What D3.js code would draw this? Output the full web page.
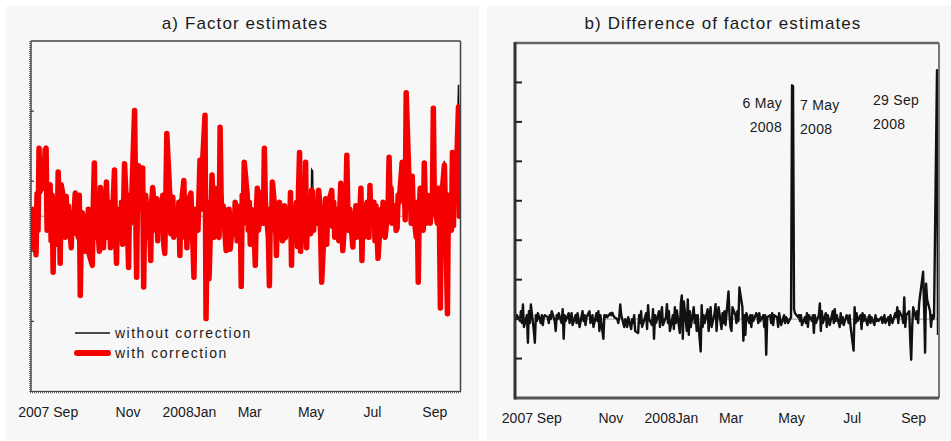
<!DOCTYPE html>
<html>
<head>
<meta charset="utf-8">
<script src="https://cdn.jsdelivr.net/npm/d3@7"></script>
<style>
  html, body { margin: 0; padding: 0; background: #ffffff; }
  svg { display: block; font-family: Arial, "Liberation Sans", Helvetica, sans-serif; }
</style>
</head>
<body>
<svg id="chart" width="951" height="441"></svg>
<script>
// ---- data -------------------------------------------------------------
// Daily (business-day) sample, 1 Aug 2007 - 30 Sep 2008
const startDate = new Date(2007, 7, 1);
const endDate = new Date(2008, 9, 1);

const tickDates = [
  new Date(2007, 8, 1), new Date(2007, 10, 1), new Date(2008, 0, 1),
  new Date(2008, 2, 1), new Date(2008, 4, 1), new Date(2008, 6, 1), new Date(2008, 8, 1)
];
const tickLabels = ["2007 Sep", "Nov", "2008Jan", "Mar", "May", "Jul", "Sep"];

// factor estimate with correction (one row per month)
const withCorrection = [
  -0.17, -0.45, 0.1, -0.55, 0.32, -0.2, 0.97, 0.35, 0.6, 0.4, 0.95, 0.97, -0.2, 0.45, -0.35, 0.3, -0.8, 0.25, -0.4, 0.63, 0.1, -0.67, 0.45,
  0.2, -0.3, 0.28, -0.1, 0.15, -0.45, 0.05, -0.25, 0.1, 0.33, -0.3, 0.3, -1.13, -0.2, 0.05, -0.5, 0.0, -0.4, 0.1, -0.55,
  -0.7, 0.2, 0.76, -0.3, 0.1, -0.5, 0.41, -0.2, 0.25, -0.45, 0.49, 0.05, -0.3, 0.2, -0.45, 0.3, 0.66, -0.2, -0.67, 0.1, -0.3, 0.2, -0.4,
  0.1, 0.75, -0.2, -0.73, 0.3, -0.1, 0.2, 1.51, 0.2, -0.87, 0.4, 0.72, 0.1, 0.69, -1.01, 0.05, 0.3, -0.3, -0.1, -0.63, 0.2, 0.41,
  -0.2, 0.25, -0.35, 0.1, -0.15, 0.3, -0.4, -0.53, 0.2, 1.18, 0.3, -0.25, 0.15, 0.27, -0.3, 0.1, -0.2, 0.2, -0.56, 0.1, 0.51,
  -0.3, 0.1, -0.45, 0.2, 0.33, -0.2, -0.4, -0.87, 0.1, -0.2, 0.3, 0.8, 0.1, 0.6, 1.44, -1.46, -0.3, 0.2, -0.89, 0.59, 0.1, -0.3, 0.4,
  0.2, -0.3, 1.27, 0.3, -0.1, 0.15, -0.49, 0.09, -0.2, 0.1, -0.47, 0.0, -0.25, 0.2, 0.05, -0.35, 0.15, -1.0, 0.3, -0.1, 0.77,
  0.3, -0.2, 0.2, -0.4, 0.1, -0.3, -0.7, 0.05, 0.4, -0.2, 0.1, 0.35, -0.1, 0.97, 0.2, -0.3, -0.99, 0.1, -0.2, 0.49, 0.0,
  -0.56, 0.05, -0.2, 0.2, -0.35, 0.0, 0.15, -0.3, 0.1, -0.2, 0.34, -0.7, 0.1, -0.3, 0.2, -0.43, 0.4, 0.91, -0.5, 0.3, -0.2, 0.77,
  -0.45, 0.1, -0.25, 0.37, 0.35, -0.2, 0.15, -0.1, 0.37, 0.2, -0.3, -0.94, 0.0, 0.25, -0.4, 0.1, 0.2, 0.37, -0.15, 0.2, -0.3, 0.1,
  -0.35, 0.1, 0.47, -0.1, -0.49, 0.2, 0.87, 0.07, -0.2, 0.1, -0.44, 0.0, -0.2, 0.15, -0.3, 0.1, 0.4, -0.63, 0.05, -0.3, 0.2,
  0.1, -0.3, 0.44, -0.1, 0.2, -0.35, 0.15, -0.2, -0.6, 0.1, -0.15, 0.2, -0.2, -0.3, 0.1, 0.84, 0.2, 0.4, -0.1, 0.15, -0.2, -0.17, 0.3,
  0.2, 0.77, 0.3, 0.5, -0.05, 1.76, 0.4, 0.33, -0.1, 0.57, 0.1, -0.3, 0.2, -0.94, 0.1, 0.4, -0.2, 0.76, 0.2, -0.1, 0.3,
  -0.1, 0.3, 0.1, 1.54, 0.2, -0.1, 0.4, 0.0, -1.31, 0.2, 0.73, 0.1, -0.6, -1.39, 0.3, -0.2, 0.91, -0.13, 0.6, 0.2, 1.56, 0.0
];

// difference of the two estimates (uncorrected minus corrected), panel b units
const difference = [
  0.12, 0.05, 0.1, -0.05, 0.2, -0.1, 0.37, -0.2, 0.1, -0.6, 0.2, -0.1, 0.37, -0.3, -0.6, 0.1, -0.05, 0.15, -0.1, 0.1, -0.15, 0.05, 0.1,
  0.05, -0.1, 0.1, 0.0, 0.2, -0.05, -0.3, 0.1, 0.0, 0.15, -0.1, 0.25, -0.5, 0.1, -0.05, 0.15, -0.1, 0.05, 0.15, -0.15,
  0.1, -0.1, 0.15, 0.0, -0.2, 0.2, -0.05, 0.1, -0.15, 0.05, 0.2, -0.1, 0.0, 0.1, -0.2, 0.15, -0.05, 0.2, -0.3, 0.1, -0.5, 0.1, 0.05,
  0.1, 0.05, 0.15, 0.1, 0.16, 0.1, 0.05, 0.0, -0.1, 0.05, 0.37, 0.1, -0.2, 0.0, -0.1, -0.2, 0.05, -0.25, 0.0, -0.1, 0.1, -0.3,
  -0.35, 0.1, -0.1, 0.2, -0.2, 0.05, 0.15, -0.25, 0.35, 0.0, -0.15, 0.25, -0.5, 0.1, -0.1, 0.2, -0.2, 0.1, 0.3, -0.15, 0.05,
  0.38, -0.1, 0.2, -0.3, 0.1, -0.25, 0.3, -0.1, 0.22, -0.35, 0.4, 0.6, -0.5, 0.45, -0.3, 0.5, -0.4, 0.2, -0.2, 0.3, -0.1, 0.1, -0.3,
  0.1, -0.82, 0.35, -0.2, 0.1, -0.1, 0.25, -0.3, 0.1, 0.3, -0.2, 0.15, 0.38, -0.3, 0.1, 0.3, -0.25, 0.15, -0.1, 0.2, -0.15,
  0.7, 0.1, -0.2, -0.3, 0.3, 0.1, -0.1, 0.2, -0.05, 0.8, 0.3, -0.55, 0.1, -0.4, 0.15, -0.1, 0.1, -0.2, 0.1, -0.05, 0.15,
  0.1, -0.1, 0.15, -0.05, 0.1, -0.2, 0.1, -0.9, 0.05, 0.1, -0.1, 0.15, -0.15, 0.1, 0.05, -0.2, 0.15, 0.0, -0.15, 0.1, -0.1, 0.05,
  0.0, -0.1, 0.05, 5.93, 5.9, 0.25, 0.15, 0.05, 0.1, -0.05, 0.1, -0.15, 0.05, -0.1, 0.15, -0.2, 0.1, -0.05, 0.1, -0.35, 0.1, -0.1,
  0.1, 0.4, -0.3, 0.2, -0.1, 0.15, -0.2, 0.1, 0.0, -0.15, 0.2, -0.1, 0.25, -0.05, 0.1, -0.2, 0.15, -0.1, 0.05, -0.15, 0.1,
  0.05, -0.1, 0.1, -0.2, -0.8, 0.3, -0.1, 0.15, -0.05, 0.1, -0.25, 0.15, -0.05, 0.1, -0.15, 0.05, 0.1, -0.1, 0.05, -0.15, 0.1, -0.05, 0.0,
  -0.05, 0.05, -0.1, 0.0, 0.1, -0.1, 0.05, -0.15, 0.1, 0.0, -0.1, 0.15, 0.05, 0.3, -0.1, 0.2, 0.05, -0.1, 0.55, -0.2, 0.1,
  0.2, -0.5, -1.03, -0.2, 0.3, 0.0, 0.2, -0.1, 0.4, 0.6, 1.2, 0.3, -0.85, 0.9, 0.5, 0.2, -0.2, 0.1, 0.0, 0.05, 6.31, -0.4
];

// panel b shows the difference magnified 20 times relative to panel a
const differenceMagnification = 20;

const yTicksA = [-1.5, -0.5, 0.5, 1.5];
const yTicksB = [-1, 0, 1, 2, 3, 4, 5, 6];

const titles = ["a) Factor estimates", "b) Difference of factor estimates"];
const legendLabels = ["without correction", "with correction"];

const annotations = [
  { date: new Date(2008, 4, 6), lines: ["6 May", "2008"], side: "left" },
  { date: new Date(2008, 4, 7), lines: ["7 May", "2008"], side: "right" },
  { date: new Date(2008, 8, 29), lines: ["29 Sep", "2008"], side: "far" }
];

// ---- build series ------------------------------------------------------
const days = d3.timeDay.range(startDate, endDate)
  .filter(d => d.getDay() !== 0 && d.getDay() !== 6);

const seriesWith = days.map((d, i) => ({ date: d, value: withCorrection[i] }));
const seriesWithout = days.map((d, i) => ({ date: d, value: withCorrection[i] + difference[i] / differenceMagnification }));
const seriesDiff = days.map((d, i) => ({ date: d, value: difference[i] }));

// ---- drawing -----------------------------------------------------------
const svg = d3.select("#chart");
const defs = svg.append("defs");

// panel backgrounds
svg.append("rect").attr("x", 6).attr("y", 6).attr("width", 473).attr("height", 434).attr("fill", "#f7f7f7");
svg.append("rect").attr("x", 487).attr("y", 6).attr("width", 464).attr("height", 434).attr("fill", "#f7f7f7");

function clip(id, x0, y0, x1, y1) {
  defs.append("clipPath").attr("id", id)
    .append("rect").attr("x", x0).attr("y", y0).attr("width", x1 - x0).attr("height", y1 - y0);
}

function monthLabels(g, x, yBase) {
  tickDates.forEach((d, i) => {
    const px = x(d) + 4.5;
    const first = i === 0;
    g.append("text")
      .attr("x", first ? px + 11.5 : px)
      .attr("y", yBase)
      .attr("text-anchor", first ? "end" : "middle")
      .attr("font-size", 14)
      .attr("fill", "#1a1a1a")
      .text(tickLabels[i]);
  });
}

function title(text, cx) {
  svg.append("text")
    .attr("x", cx).attr("y", 29)
    .attr("text-anchor", "middle")
    .attr("font-size", 17)
    .attr("letter-spacing", "1.1px")
    .attr("fill", "#1a1a1a")
    .text(text);
}

// ---------- panel a ----------
{
  const L = 31, T = 41, R = 460.5, B = 391.5;
  const x = d3.scaleTime().domain([startDate, endDate]).range([L, R]);
  const y = d3.scaleLinear().domain([-2.5, 2.5]).range([B, T]);
  const g = svg.append("g");
  clip("clipA", L, T, R, B);

  title(titles[0], 245);

  g.append("line").attr("x1", L).attr("x2", R).attr("y1", y(0)).attr("y2", y(0))
    .attr("stroke", "#9a9a9a").attr("stroke-width", 1);

  const line = d3.line().x(d => x(d.date)).y(d => y(d.value));
  const plot = g.append("g").attr("clip-path", "url(#clipA)");
  plot.append("path").datum(seriesWithout).attr("d", line)
    .attr("fill", "none").attr("stroke", "#111").attr("stroke-width", 1.4);
  plot.append("path").datum(seriesWith).attr("d", line)
    .attr("fill", "none").attr("stroke", "#f50000").attr("stroke-width", 5.5)
    .attr("stroke-linejoin", "round").attr("stroke-linecap", "round");

  // frame
  g.append("line").attr("x1", L).attr("x2", R).attr("y1", T).attr("y2", T).attr("stroke", "#444").attr("stroke-width", 1.5);
  g.append("line").attr("x1", R).attr("x2", R).attr("y1", T).attr("y2", B).attr("stroke", "#444").attr("stroke-width", 1.5);
  g.append("line").attr("x1", L).attr("x2", L).attr("y1", T).attr("y2", B).attr("stroke", "#333").attr("stroke-width", 1.2);
  g.append("line").attr("x1", L - 0.5).attr("x2", L - 0.5).attr("y1", T).attr("y2", B + 1)
    .attr("stroke", "#555").attr("stroke-width", 2.5).attr("stroke-dasharray", "1,1");
  g.append("line").attr("x1", L).attr("x2", R).attr("y1", B).attr("y2", B).attr("stroke", "#333").attr("stroke-width", 1.2);
  g.append("line").attr("x1", L - 1).attr("x2", R).attr("y1", B + 0.5).attr("y2", B + 0.5)
    .attr("stroke", "#555").attr("stroke-width", 2.5).attr("stroke-dasharray", "1,1");

  // y ticks (unlabelled)
  yTicksA.forEach(v => {
    g.append("line").attr("x1", L).attr("x2", L + 3).attr("y1", y(v)).attr("y2", y(v))
      .attr("stroke", "#333").attr("stroke-width", 1.2);
  });

  monthLabels(g, x, 417);

  // legend
  const lg = g.append("g");
  lg.append("line").attr("x1", 75).attr("x2", 110).attr("y1", 333).attr("y2", 333)
    .attr("stroke", "#111").attr("stroke-width", 1.4);
  lg.append("line").attr("x1", 77).attr("x2", 108).attr("y1", 353).attr("y2", 353)
    .attr("stroke", "#f50000").attr("stroke-width", 6).attr("stroke-linecap", "round");
  lg.append("text").attr("x", 115).attr("y", 338).attr("font-size", 14)
    .attr("letter-spacing", "1.5px").attr("fill", "#1a1a1a").text(legendLabels[0]);
  lg.append("text").attr("x", 115).attr("y", 358).attr("font-size", 14)
    .attr("letter-spacing", "1.5px").attr("fill", "#1a1a1a").text(legendLabels[1]);
}

// ---------- panel b ----------
{
  const L = 515, T = 43, R = 939, B = 398;
  const x = d3.scaleTime().domain([startDate, endDate]).range([L, R]);
  const y = d3.scaleLinear().domain([-2, 7]).range([B, T]);
  const g = svg.append("g");
  clip("clipB", L, T, R, B);

  title(titles[1], 723);

  g.append("line").attr("x1", L).attr("x2", R).attr("y1", y(0)).attr("y2", y(0))
    .attr("stroke", "#9a9a9a").attr("stroke-width", 1);

  const line = d3.line().x(d => x(d.date)).y(d => y(d.value));
  g.append("g").attr("clip-path", "url(#clipB)")
    .append("path").datum(seriesDiff).attr("d", line)
    .attr("fill", "none").attr("stroke", "#111").attr("stroke-width", 2.4)
    .attr("stroke-linejoin", "round");

  // frame
  g.append("line").attr("x1", L).attr("x2", R).attr("y1", T).attr("y2", T).attr("stroke", "#666").attr("stroke-width", 2.5);
  g.append("line").attr("x1", R).attr("x2", R).attr("y1", T).attr("y2", B).attr("stroke", "#777").attr("stroke-width", 2);
  g.append("line").attr("x1", L).attr("x2", R).attr("y1", B).attr("y2", B).attr("stroke", "#555").attr("stroke-width", 3);
  g.append("line").attr("x1", L).attr("x2", L).attr("y1", T - 1).attr("y2", B + 1.5).attr("stroke", "#333").attr("stroke-width", 3);

  yTicksB.forEach(v => {
    g.append("line").attr("x1", L).attr("x2", L + 7).attr("y1", y(v)).attr("y2", y(v))
      .attr("stroke", "#222").attr("stroke-width", 2);
  });

  monthLabels(g, x, 423);

  // event annotations
  annotations.forEach(a => {
    const px = x(a.date);
    let tx, anchor, yb;
    if (a.side === "left") { tx = px - 10; anchor = "end"; yb = 108; }
    else if (a.side === "right") { tx = px + 7; anchor = "start"; yb = 110; }
    else { tx = px - 64; anchor = "start"; yb = 105; }
    a.lines.forEach((t, k) => {
      g.append("text").attr("x", tx).attr("y", yb + k * 23.5)
        .attr("text-anchor", anchor).attr("font-size", 14)
        .attr("letter-spacing", "0.3px").attr("fill", "#1a1a1a").text(t);
    });
  });
}
</script>
</body>
</html>
